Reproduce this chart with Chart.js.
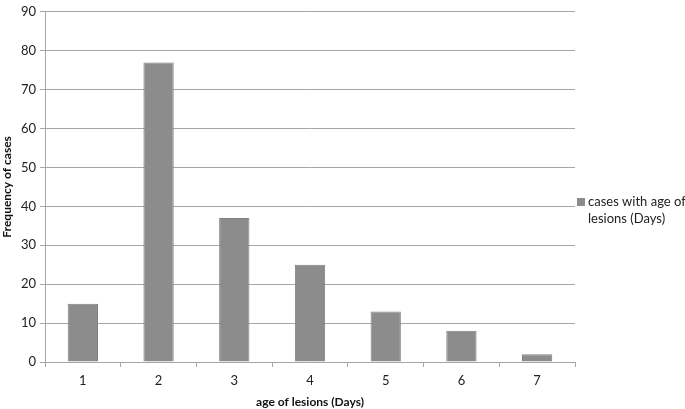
<!DOCTYPE html>
<html>
<head>
<meta charset="utf-8">
<script src="https://cdn.jsdelivr.net/npm/chart.js@4/dist/chart.umd.min.js"></script>
<style>
  html, body { margin: 0; padding: 0; background: #fff; }
  #wrap { width: 685px; height: 409px; }
</style>
</head>
<body>
<div id="wrap"><canvas id="chart"></canvas></div>
<script>
// Data
const categories = ["1", "2", "3", "4", "5", "6", "7"]
const caseCounts = [15, 77, 37, 25, 13, 8, 2]
const seriesName = ["cases with age of", "lesions (Days)"]
const yTicks = [0, 10, 20, 30, 40, 50, 60, 70, 80, 90]

const FONT = "Lato, 'Open Sans', 'Liberation Sans', sans-serif"
const barColor = "#8c8c8c"

// legend drawn to the right of the plot, text wrapped over two lines
const sideLegend = {
  id: "sideLegend",
  afterDraw(chart) {
    const ctx = chart.ctx
    const area = chart.chartArea
    const x = area.right + 2
    const y = 202
    ctx.save()
    ctx.fillStyle = barColor
    ctx.fillRect(x, y - 4, 8, 8)
    ctx.fillStyle = "#222"
    ctx.font = "13px " + FONT
    ctx.textBaseline = "middle"
    seriesName.forEach((line, i) => ctx.fillText(line, x + 11, y + i * 17))
    ctx.restore()
  },
}

new Chart(document.getElementById("chart"), {
  type: "bar",
  data: {
    labels: categories,
    datasets: [
      {
        label: seriesName.join(" "),
        data: caseCounts,
        backgroundColor: barColor,
        borderColor: "#808080",
        borderWidth: 1,
        categoryPercentage: 0.4,
        barPercentage: 1,
      },
    ],
  },
  options: {
    responsive: true,
    maintainAspectRatio: false,
    animation: false,
    layout: { padding: { top: 4, right: 110, bottom: 0, left: 0 } },
    plugins: {
      legend: { display: false },
      tooltip: { enabled: false },
    },
    scales: {
      x: {
        grid: {
          display: true,
          drawOnChartArea: false,
          offset: true,
          color: "#a6a6a6",
          tickLength: 5,
        },
        border: { color: "#a6a6a6" },
        ticks: { color: "#222", font: { family: FONT, size: 13 }, padding: 6 },
        title: {
          display: true,
          text: "age of lesions (Days)",
          color: "#111",
          font: { family: FONT, size: 12, weight: "bold" },
          padding: { top: 6, bottom: 0 },
        },
        afterFit: (scale) => { scale.height = 47 },
      },
      y: {
        min: 0,
        max: 90,
        afterBuildTicks: (scale) => { scale.ticks = yTicks.map((v) => ({ value: v })) },
        grid: { color: "#a6a6a6", tickLength: 5 },
        border: { color: "#a6a6a6" },
        ticks: { color: "#222", font: { family: FONT, size: 13 }, padding: 4 },
        title: {
          display: true,
          text: "Frequency of cases",
          color: "#111",
          font: { family: FONT, size: 12, weight: "bold" },
          padding: { top: 0, bottom: 2 },
        },
        afterFit: (scale) => { scale.width = 45 },
      },
    },
  },
  plugins: [sideLegend],
})
</script>
</body>
</html>
